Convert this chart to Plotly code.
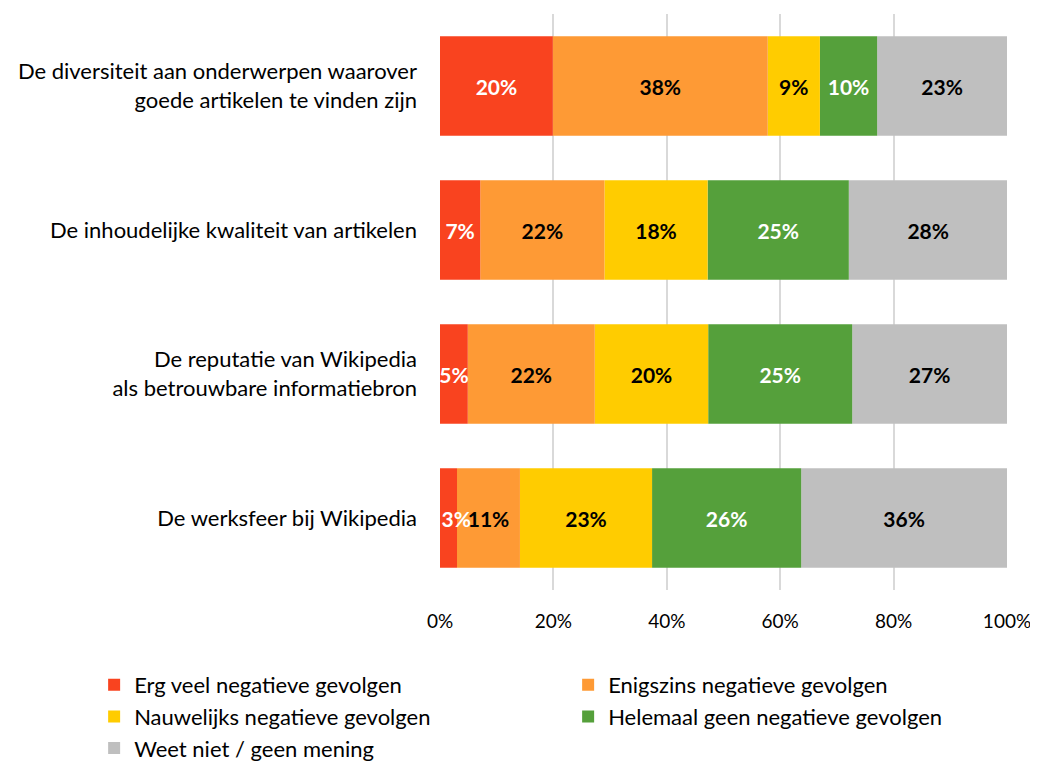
import plotly.graph_objects as go

categories = [
    "De diversiteit aan onderwerpen waarover<br>goede artikelen te vinden zijn",
    "De inhoudelijke kwaliteit van artikelen",
    "De reputatie van Wikipedia<br>als betrouwbare informatiebron",
    "De werksfeer bij Wikipedia",
]
series_names = [
    "Erg veel negatieve gevolgen",
    "Enigszins negatieve gevolgen",
    "Nauwelijks negatieve gevolgen",
    "Helemaal geen negatieve gevolgen",
    "Weet niet / geen mening",
]
erg_veel = [19.9, 7.1, 4.9, 3.0]
enigszins = [37.9, 21.9, 22.4, 11.1]
nauwelijks = [9.2, 18.2, 20.0, 23.3]
helemaal_geen = [10.1, 24.9, 25.4, 26.3]
weet_niet = [22.9, 28.0, 27.3, 36.3]
tick_vals = [0, 20, 40, 60, 80, 100]
tick_labels = ["0%", "20%", "40%", "60%", "80%", "100%"]

series_values = [erg_veel, enigszins, nauwelijks, helemaal_geen, weet_niet]
colors = ["#F9431F", "#FE9A35", "#FFCC00", "#55A03B", "#BFBFBF"]
text_colors = ["white", "black", "black", "white", "black"]

FONT = "Lato"
NBSP = "\u00a0"


def label(v):
    # labels of very narrow segments spill slightly to the right
    pad = NBSP * 3 if v < 4 else ""
    return f"{pad}{round(v)}%"


# stacked positions: each series starts where the previous ones end
bases = []
running = [0.0] * len(categories)
for vals in series_values:
    bases.append(list(running))
    running = [r + v for r, v in zip(running, vals)]

fig = go.Figure()
# draw the last series first so the labels of earlier (left) segments stay on top
for i in reversed(range(len(series_names))):
    vals = series_values[i]
    fig.add_trace(go.Bar(
        y=categories, x=vals, base=bases[i], name=series_names[i], orientation="h",
        marker=dict(color=colors[i], line=dict(width=0)),
        text=[label(v) for v in vals],
        textposition="inside", insidetextanchor="middle",
        constraintext="none", textangle=0,
        textfont=dict(family=FONT, size=21, color=text_colors[i], weight="bold"),
        hoverinfo="skip",
    ))

# page body adds an 8px offset; the figure is sized to compensate
fig.update_layout(
    barmode="overlay",
    bargap=0.31,
    width=1030, height=754,
    margin=dict(l=432, r=31, t=6, b=172, autoexpand=False),
    plot_bgcolor="white", paper_bgcolor="white",
    font=dict(family=FONT, size=22, color="black"),
    showlegend=True,
    legend=dict(
        orientation="h", xref="paper", yref="paper",
        x=-0.610, y=-0.1285, xanchor="left", yanchor="top",
        entrywidth=429, entrywidthmode="pixels",
        font=dict(family=FONT, size=22, color="black"),
        traceorder="reversed", itemwidth=30, tracegroupgap=0,
    ),
    xaxis=dict(
        range=[0, 100], tickvals=tick_vals, ticktext=tick_labels,
        showgrid=True, gridcolor="#D9D9D9", gridwidth=2,
        zeroline=False, showline=False, ticks="", automargin=False,
        ticklabelstandoff=18,
        tickfont=dict(family=FONT, size=19, color="black"),
    ),
    yaxis=dict(
        autorange="reversed", showgrid=False, ticks="", automargin=False,
        ticklabelstandoff=22,
        tickfont=dict(family=FONT, size=22, color="black"),
    ),
)

fig.write_html("out.html")
